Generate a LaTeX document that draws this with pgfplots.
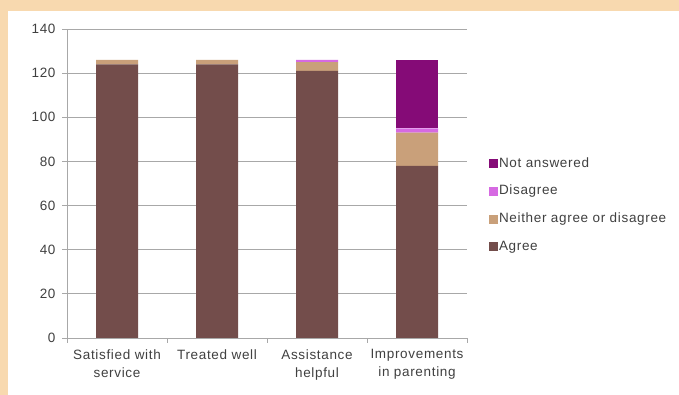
\documentclass[border=0pt]{standalone}
\usepackage{fontspec}
\setmainfont{Liberation Sans}[LetterSpace=5]
\usepackage{pgfplots}
\pgfplotsset{compat=1.18}
\definecolor{beige}{HTML}{F8D9AF}
\definecolor{agree}{HTML}{734D4B}
\definecolor{neither}{HTML}{C9A07A}
\definecolor{disagree}{HTML}{D66AE2}
\definecolor{notans}{HTML}{850B77}
\definecolor{txt}{HTML}{404040}
\definecolor{gridc}{HTML}{A8A8A8}
\begin{document}
\begin{tikzpicture}[x=1pt,y=1pt,font=\fontsize{13.5}{18}\selectfont]
\fill[beige] (0,0) rectangle (679,395);
\fill[white] (8,0) rectangle (679,384);
\begin{axis}[
  at={(67pt,57pt)}, anchor=south west,
  width=400pt, height=309pt, scale only axis,
  ybar stacked, bar width=0.42,
  xmin=-0.5, xmax=3.5, ymin=0, ymax=140,
  ytick={0,20,...,140},
  xtick={-0.5,0.5,1.5,2.5,3.5},
  x tick label as interval,
  xticklabels={{Satisfied with\\service},{Treated well},{Assistance\\helpful},{Improvements\\in parenting}},
  xticklabel style={align=center, text=txt, font=\fontsize{13.5}{18}\selectfont},
  yticklabel style={text=txt},
  /pgf/number format/assume math mode=true,
  axis x line*=bottom, axis y line*=left,
  axis line style={gridc, line width=0.8pt},
  tick style={gridc, line width=0.8pt},
  tick align=outside, major tick length=5pt,
  ymajorgrids, grid style={gridc, line width=0.8pt},
  xticklabel shift=3pt, yticklabel shift=3pt,
  reverse legend,
  legend cell align=left,
  legend style={at={(1.047,0.594)}, anchor=north west, draw=none, fill=none,
    text=txt, row sep=13.7pt, nodes={inner sep=1pt, text height=9.5pt, text depth=2.5pt}},
  legend image code/.code={\fill[#1] (0pt,-4.5pt) rectangle (9pt,4.5pt);},
]
\addplot[fill=agree, draw=none] coordinates {(0,124) (1,124) (2,121) (3,78)};
\addplot[fill=neither, draw=none] coordinates {(0,2) (1,2) (2,4) (3,15)};
\addplot[fill=disagree, draw=none] coordinates {(0,0) (1,0) (2,1) (3,2)};
\addplot[fill=notans, draw=none] coordinates {(0,0) (1,0) (2,0) (3,31)};
\legend{Agree,Neither agree or disagree,Disagree,Not answered}
\end{axis}
\end{tikzpicture}
\end{document}
